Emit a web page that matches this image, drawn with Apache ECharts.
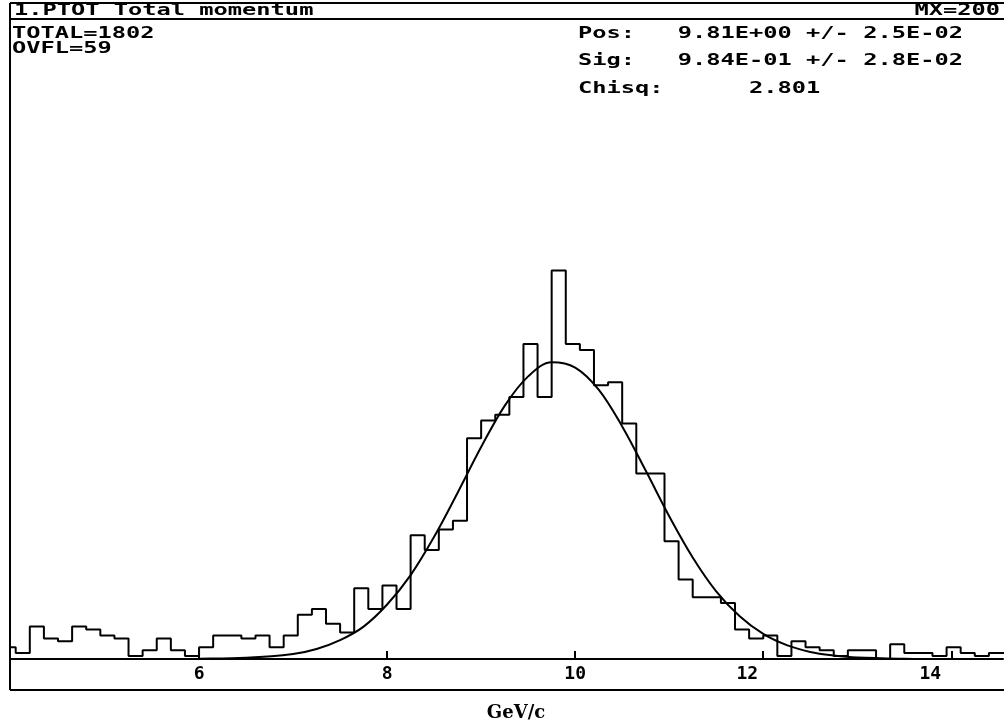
<!DOCTYPE html>
<html>
<head>
<meta charset="utf-8">
<script src="https://cdn.jsdelivr.net/npm/echarts@6/dist/echarts.min.js"></script>
<style>
html, body { margin: 0; padding: 0; background: #fff; }
#chart { width: 1008px; height: 727px; }
</style>
</head>
<body>
<div id="chart"></div>
<script>
// histogram: bins of 0.15 GeV/c starting at 3.9
const binStart = 3.9
const binWidth = 0.15
const counts = [
  4, 2, 11, 7, 6, 11, 10, 8, 7, 1,
  3, 7, 3, 1, 4, 8, 8, 7, 8, 4,
  8, 15, 17, 12, 9, 24, 17, 25, 17, 42,
  37, 44, 47, 75, 81, 83, 89, 107, 89, 132,
  107, 105, 93, 94, 80, 63, 63, 40, 27, 21,
  21, 19, 10, 7, 8, 1, 6, 4, 3, 1,
  3, 3, 0, 5, 2, 2, 1, 4, 2, 1,
  2, 2
]

// gaussian fit curve
const fitX = [4.0, 5.0, 5.5, 6.0, 6.5, 7.0, 7.25, 7.5, 7.75, 8.0, 8.25, 8.5, 8.75, 9.0, 9.25, 9.5, 9.75,
  10.0, 10.25, 10.5, 10.75, 11.0, 11.25, 11.5, 11.75, 12.0, 12.25, 12.5, 12.75, 13.0, 13.5, 14.0, 14.55]
const fitY = [0, 0, 0, 0.1, 0.4, 1.7, 3.4, 6.4, 11, 18.5, 28.5, 41.5, 56.5, 72, 86, 96, 100.8,
  99, 91.5, 79, 64, 48.5, 34.5, 23, 14.5, 8.5, 4.7, 2.4, 1.2, 0.5, 0.1, 0, 0]

const tickLabels = [6, 8, 10, 12, 14]

const histData = counts.map((c, i) => [+(binStart + i * binWidth).toFixed(2), c])
histData.push([+(binStart + counts.length * binWidth).toFixed(2), counts[counts.length - 1]])

const fitData = fitX.map((x, i) => [x, fitY[i]])

const monoFont = 'bold 16px "DejaVu Sans Mono"'

function txt(text, x, y, align) {
  return {
    type: 'text',
    x: x,
    y: y,
    scaleX: 1.48,
    style: {
      text: text,
      font: monoFont,
      fill: '#000',
      textAlign: align || 'left',
      textVerticalAlign: 'middle'
    },
    silent: true
  }
}

function hline(x1, x2, y) {
  return { type: 'line', shape: { x1: x1, y1: y, x2: x2, y2: y }, style: { stroke: '#000', lineWidth: 2 }, silent: true }
}

const labelStyle = { fontFamily: 'DejaVu Sans Mono', fontWeight: 'bold', fontSize: 18, color: '#000' }

const chart = echarts.init(document.getElementById('chart'))
chart.setOption({
  animation: false,
  backgroundColor: '#fff',
  grid: { left: 11, top: 29, width: 992, height: 642 },
  xAxis: {
    type: 'value',
    min: 4,
    max: 14.55,
    interval: 2,
    splitLine: { show: false },
    axisLine: { lineStyle: { color: '#000', width: 2 } },
    axisTick: { inside: true, length: 8, lineStyle: { color: '#000', width: 2 } },
    axisLabel: Object.assign({
      showMinLabel: false,
      showMaxLabel: false,
      margin: 6,
      formatter: v => {
        if (!tickLabels.includes(v)) return ''
        if (v === 12) return '{a|12}'
        if (v === 14) return '{b|14}'
        return String(v)
      },
      rich: {
        a: Object.assign({ padding: [0, 32, 0, 0] }, labelStyle),
        b: Object.assign({ padding: [0, 42, 0, 0] }, labelStyle)
      }
    }, labelStyle),
    name: 'GeV/c',
    nameLocation: 'middle',
    nameGap: 45,
    nameTextStyle: {
      color: '#000',
      fontFamily: 'DejaVu Serif',
      fontWeight: 'bold',
      fontSize: 18,
      padding: [0, 0, 0, 18]
    }
  },
  yAxis: { type: 'value', min: 0, max: 214, show: false },
  series: [
    {
      type: 'line',
      step: 'end',
      data: histData,
      symbol: 'none',
      clip: true,
      lineStyle: { color: '#000', width: 2 }
    },
    {
      type: 'line',
      data: fitData,
      smooth: 0.35,
      symbol: 'none',
      clip: true,
      lineStyle: { color: '#000', width: 2 }
    }
  ],
  graphic: [
    hline(10, 1004, 3),
    hline(10, 1004, 19),
    hline(10, 1004, 690),
    { type: 'line', shape: { x1: 10, y1: 3, x2: 10, y2: 690 }, style: { stroke: '#000', lineWidth: 2 }, silent: true },
    txt('1.PTOT Total momentum', 14, 11),
    txt('MX=200', 1000, 11, 'right'),
    txt('TOTAL=1802', 12, 34),
    txt('OVFL=59', 12, 49),
    txt('Pos:   9.81E+00 +/- 2.5E-02', 578, 34),
    txt('Sig:   9.84E-01 +/- 2.8E-02', 578, 61),
    txt('Chisq:      2.801', 578, 89)
  ]
})
</script>
</body>
</html>
